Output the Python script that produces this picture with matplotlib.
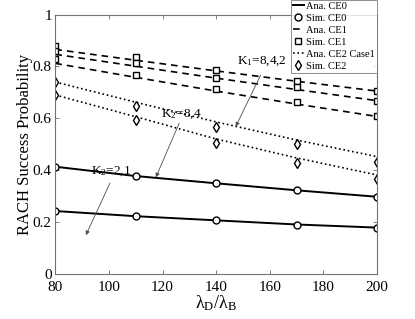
import numpy as np
import matplotlib
matplotlib.use("Agg")
import matplotlib.pyplot as plt

plt.rcParams['font.family'] = ['Liberation Serif', 'DejaVu Serif']
plt.rcParams['mathtext.fontset'] = 'custom'
plt.rcParams['mathtext.rm'] = 'Liberation Serif'
plt.rcParams['mathtext.it'] = 'Liberation Serif'

# data
ratio = [80, 110, 140, 170, 200]

ana_ce0 = [[0.413, 0.377, 0.349, 0.322, 0.297],
           [0.242, 0.222, 0.206, 0.190, 0.178]]
sim_ce0 = [[0.413, 0.377, 0.349, 0.322, 0.297],
           [0.242, 0.222, 0.206, 0.188, 0.178]]

ana_ce1 = [[0.866, 0.824, 0.783, 0.743, 0.705],
           [0.847, 0.801, 0.755, 0.711, 0.668],
           [0.812, 0.758, 0.705, 0.655, 0.607]]
sim_ce1 = [[0.879, 0.836, 0.786, 0.744, 0.705],
           [0.860, 0.812, 0.757, 0.720, 0.668],
           [0.829, 0.767, 0.712, 0.663, 0.608]]

ana_ce2 = [[0.740, 0.662, 0.586, 0.516, 0.452],
           [0.690, 0.606, 0.520, 0.447, 0.381]]
sim_ce2 = [[0.740, 0.649, 0.568, 0.500, 0.430],
           [0.690, 0.592, 0.503, 0.429, 0.364]]

fig = plt.figure(figsize=(4.15, 3.19), dpi=100)
ax = fig.add_axes([0.1333, 0.142, 0.7751, 0.812])

mk = dict(markersize=5, markerfacecolor='white', markeredgecolor='black',
          markeredgewidth=1.0, linestyle='none', color='black')

for i in range(2):
    ax.plot(ratio, ana_ce0[i], '-', color='black', lw=1.4,
            label='Ana. CE0' if i == 0 else None)
    ax.plot(ratio, sim_ce0[i], marker='o', label='Sim. CE0' if i == 0 else None, **mk)
for i in range(3):
    ax.plot(ratio, ana_ce1[i], '--', color='black', lw=1.2, dashes=(4, 3),
            label='Ana. CE1' if i == 0 else None)
    ax.plot(ratio, sim_ce1[i], marker='s', label='Sim. CE1' if i == 0 else None, **mk)
for i in range(2):
    ax.plot(ratio, ana_ce2[i], ':', color='black', lw=1.2,
            label='Ana. CE2 Case1' if i == 0 else None)
    ax.plot(ratio, sim_ce2[i], marker='d', label='Sim. CE2' if i == 0 else None, **mk)

ax.set_xlim(80, 200)
ax.set_ylim(0, 1)
ax.set_xticks([80, 100, 120, 140, 160, 180, 200])
ax.set_yticks([0, 0.2, 0.4, 0.6, 0.8, 1])
ax.set_yticklabels(['0', '0.2', '0.4', '0.6', '0.8', '1'])
ax.tick_params(direction='in', top=True, right=True, labelsize=11,
               length=3, width=0.6, color='0.4')
ax.tick_params(axis='x', pad=5)
ax.tick_params(axis='y', pad=2.5)
for s in ax.spines.values():
    s.set_color('0.45')
    s.set_linewidth(0.8)

ax.set_xlabel(r'$\lambda_D/\lambda_B$', fontsize=13, labelpad=0)
ax.set_ylabel('RACH Success Probability', fontsize=12, labelpad=0)

arrow = dict(arrowstyle='-|>', color='0.3', lw=0.6, mutation_scale=6,
             shrinkA=0, shrinkB=0)
ax.text(157, 0.82, r'K$_1$=8,4,2', fontsize=9.5, ha='center', va='center')
ax.annotate('', xy=(147.3, 0.568), xytext=(156.6, 0.767), arrowprops=arrow)
ax.text(126.8, 0.617, r'K$_2$=8,4', fontsize=9.5, ha='center', va='center')
ax.annotate('', xy=(117.5, 0.372), xytext=(126.2, 0.581), arrowprops=arrow)
ax.text(100.8, 0.394, r'K$_2$=2,1', fontsize=9.5, ha='center', va='center')
ax.annotate('', xy=(91.4, 0.149), xytext=(100.4, 0.350), arrowprops=arrow)

leg = ax.legend(loc='upper right', bbox_to_anchor=(1.0, 1.058), fontsize=7.5,
                frameon=True, fancybox=False, borderaxespad=0, handlelength=1.1,
                handletextpad=0.2, labelspacing=0.25, borderpad=0.2)
leg.get_frame().set_edgecolor('0.45')
leg.get_frame().set_linewidth(0.7)

fig.savefig('out.png', dpi=100)
